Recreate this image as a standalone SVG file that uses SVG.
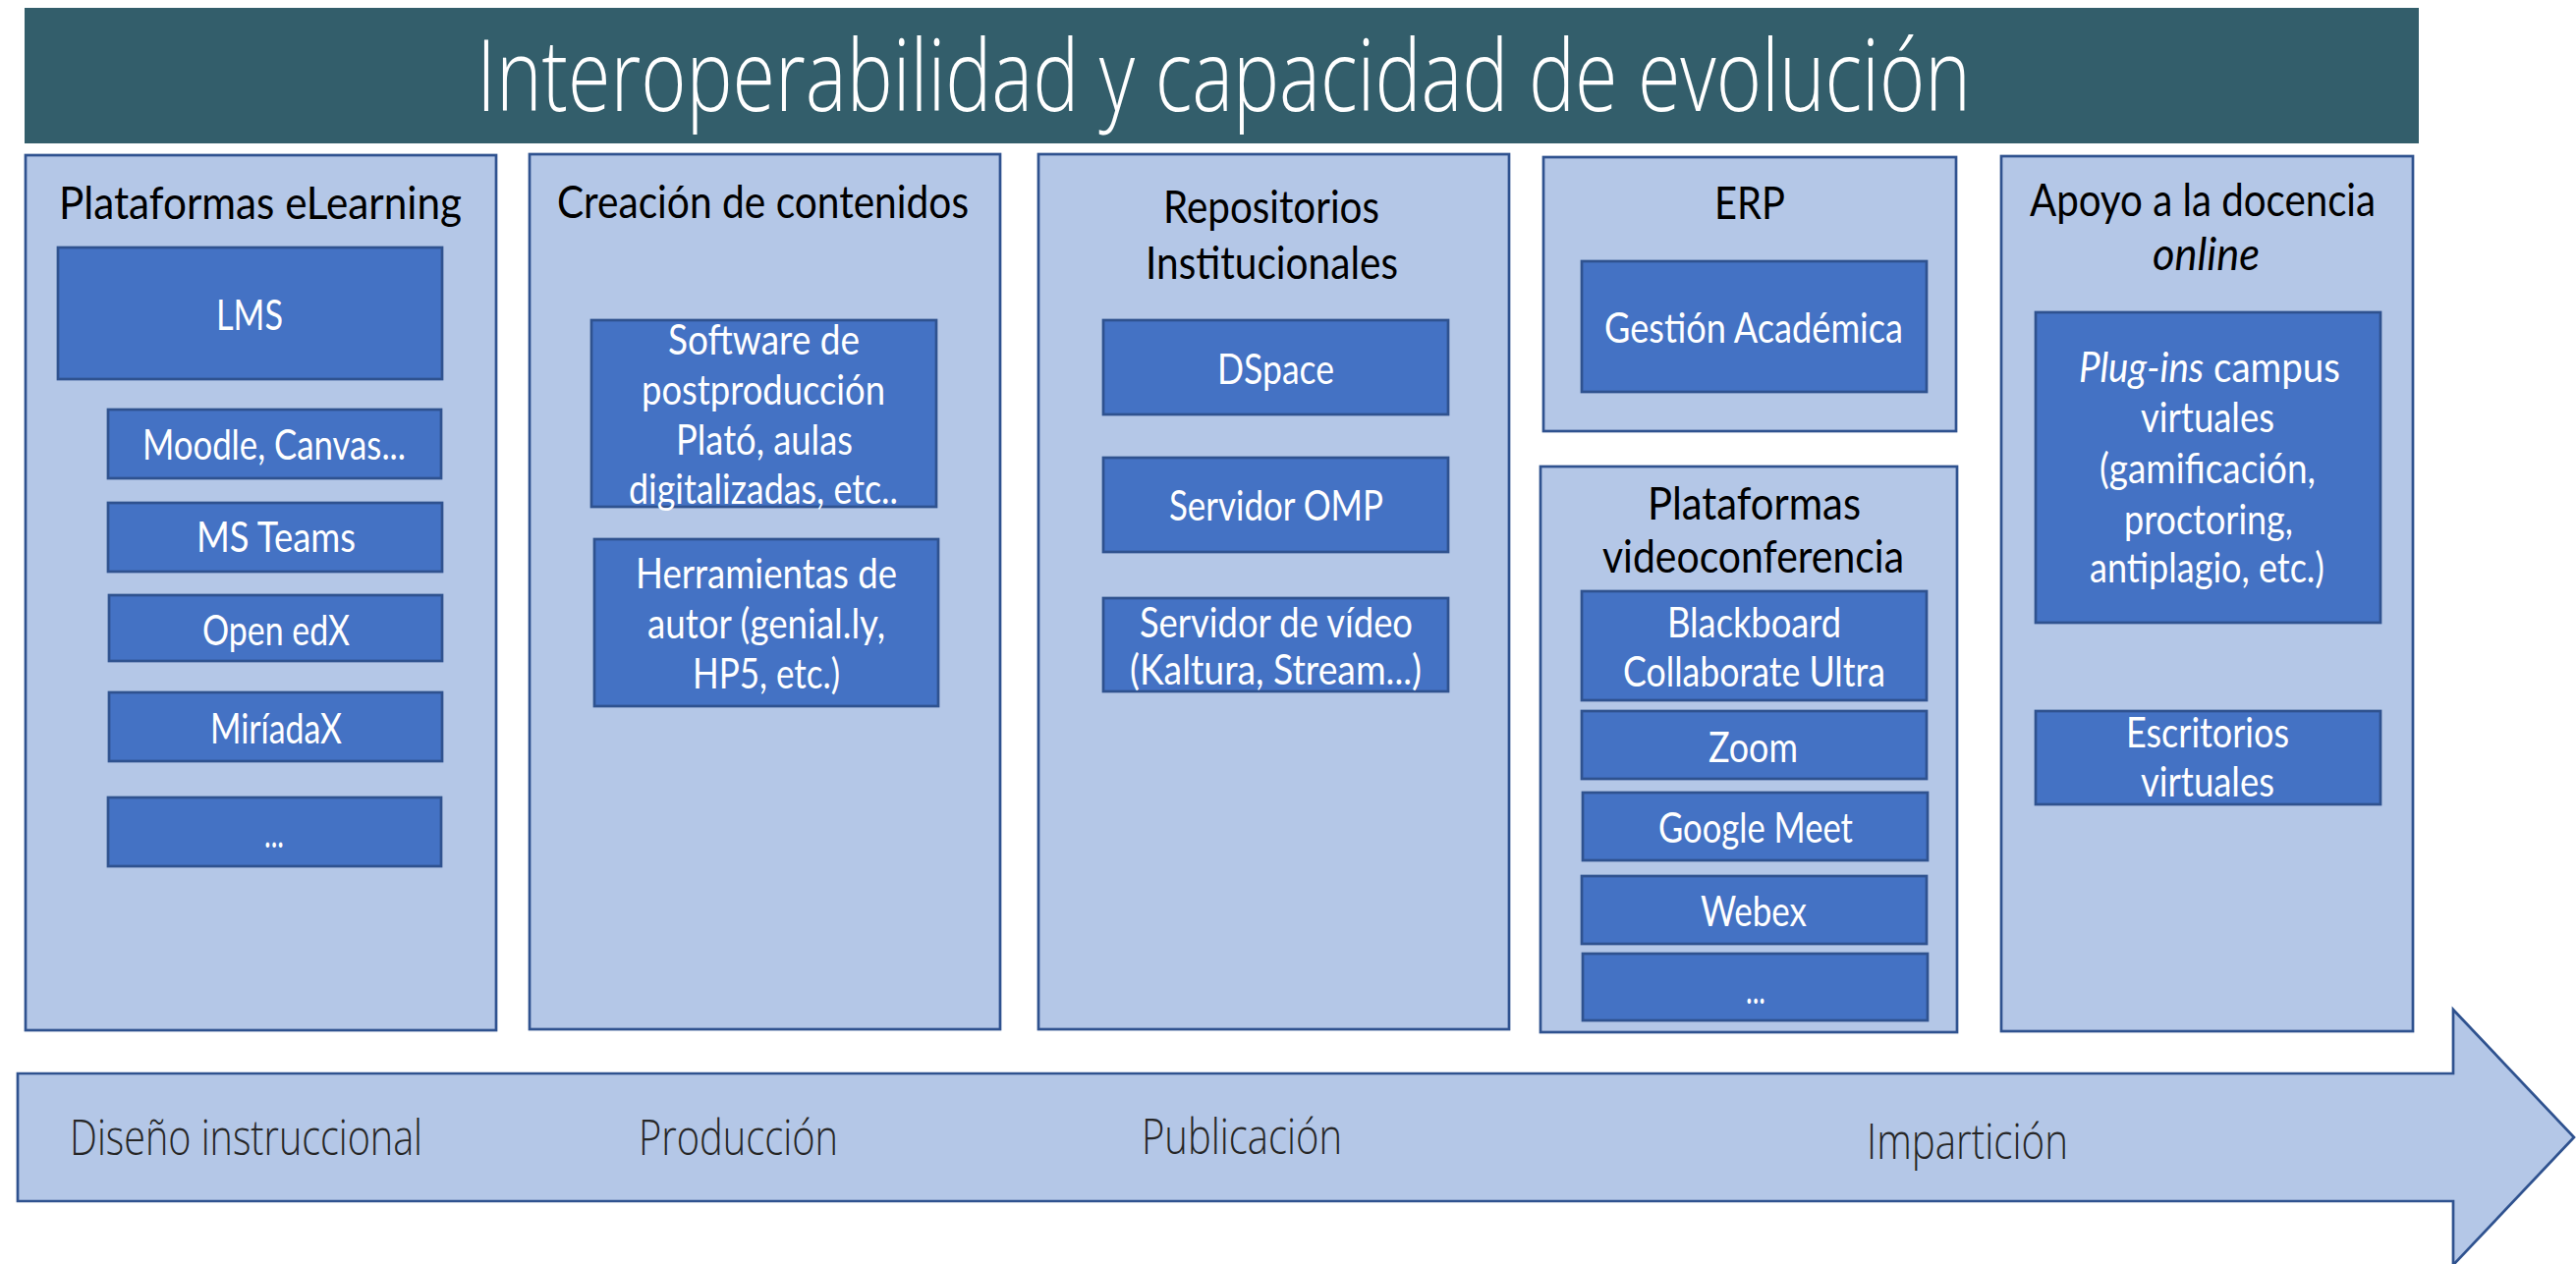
<svg xmlns="http://www.w3.org/2000/svg" width="2622" height="1287" viewBox="0 0 2622 1287">
<style>
.bar{fill:#335E6B}
.outer{fill:#B4C7E7;stroke:#2F528F;stroke-width:2.7}
.inner{fill:#4472C4;stroke:#2F528F;stroke-width:2.7}
text{font-family:Lato,"Open Sans","DejaVu Sans",sans-serif}
.title{font-family:"Open Sans","Liberation Sans",sans-serif;font-weight:300;font-size:102px;fill:#FFFFFF}
.hdr{font-size:46px;fill:#000000}
.w{font-size:42px;fill:#FFFFFF}
.stage{font-family:"Open Sans","Liberation Sans",sans-serif;font-weight:300;font-size:50px;fill:#262626}
.it{font-style:italic}
</style>
<rect width="2622" height="1287" fill="#FFFFFF"/>

<g id="title">
<rect class="bar" x="25" y="8" width="2437" height="138"/>
<text class="title" x="485" y="113" textLength="1521" lengthAdjust="spacingAndGlyphs">Interoperabilidad y capacidad de evolución</text>
</g>

<g id="timeline">
<polygon class="outer" points="18,1093 2497,1093 2497,1028 2620,1158 2497,1288 2497,1223 18,1223"/>
<text class="stage" x="71" y="1176" textLength="359" lengthAdjust="spacingAndGlyphs">Diseño instruccional</text>
<text class="stage" x="650" y="1176" textLength="203" lengthAdjust="spacingAndGlyphs">Producción</text>
<text class="stage" x="1162" y="1175" textLength="204" lengthAdjust="spacingAndGlyphs">Publicación</text>
<text class="stage" x="1900" y="1180" textLength="205" lengthAdjust="spacingAndGlyphs">Impartición</text>
</g>

<g id="plataformas-elearning">
<rect class="outer" x="26" y="158" width="479" height="891"/>
<text class="hdr" x="60" y="223" textLength="410" lengthAdjust="spacingAndGlyphs">Plataformas eLearning</text>
<g id="lms"><rect class="inner" x="59" y="252" width="391" height="134"/>
<text class="w" x="220" y="336" textLength="68" lengthAdjust="spacingAndGlyphs">LMS</text></g>
<g id="moodle"><rect class="inner" x="110" y="417" width="339" height="70"/>
<text class="w" x="145" y="468" textLength="268" lengthAdjust="spacingAndGlyphs">Moodle, Canvas...</text></g>
<g id="msteams"><rect class="inner" x="110" y="512" width="340" height="70"/>
<text class="w" x="200" y="562" textLength="162" lengthAdjust="spacingAndGlyphs">MS Teams</text></g>
<g id="openedx"><rect class="inner" x="111" y="606" width="339" height="67"/>
<text class="w" x="206" y="657" textLength="150" lengthAdjust="spacingAndGlyphs">Open edX</text></g>
<g id="miriadax"><rect class="inner" x="111" y="705" width="339" height="70"/>
<text class="w" x="214" y="757" textLength="134" lengthAdjust="spacingAndGlyphs">MiríadaX</text></g>
<g id="lms-more"><rect class="inner" x="110" y="812" width="339" height="70"/>
<text class="w" x="269" y="863" textLength="20" lengthAdjust="spacingAndGlyphs">...</text></g>
</g>

<g id="creacion-contenidos">
<rect class="outer" x="539" y="157" width="479" height="891"/>
<text class="hdr" x="567" y="222" textLength="419" lengthAdjust="spacingAndGlyphs">Creación de contenidos</text>
<g id="software"><rect class="inner" x="602" y="326" width="351" height="190"/>
<text class="w" x="680" y="361" textLength="195" lengthAdjust="spacingAndGlyphs">Software de</text>
<text class="w" x="653" y="412" textLength="248" lengthAdjust="spacingAndGlyphs">postproducción</text>
<text class="w" x="688" y="463" textLength="180" lengthAdjust="spacingAndGlyphs">Plató, aulas</text>
<text class="w" x="640" y="513" textLength="274" lengthAdjust="spacingAndGlyphs">digitalizadas, etc..</text></g>
<g id="herramientas"><rect class="inner" x="605" y="549" width="350" height="170"/>
<text class="w" x="647" y="599" textLength="266" lengthAdjust="spacingAndGlyphs">Herramientas de</text>
<text class="w" x="659" y="650" textLength="242" lengthAdjust="spacingAndGlyphs">autor (genial.ly,</text>
<text class="w" x="705" y="701" textLength="150" lengthAdjust="spacingAndGlyphs">HP5, etc.)</text></g>
</g>

<g id="repositorios">
<rect class="outer" x="1057" y="157" width="479" height="891"/>
<text class="hdr" x="1184" y="227" textLength="220" lengthAdjust="spacingAndGlyphs">Repositorios</text>
<text class="hdr" x="1166" y="284" textLength="257" lengthAdjust="spacingAndGlyphs">Institucionales</text>
<g id="dspace"><rect class="inner" x="1123" y="326" width="351" height="96"/>
<text class="w" x="1239" y="391" textLength="119" lengthAdjust="spacingAndGlyphs">DSpace</text></g>
<g id="omp"><rect class="inner" x="1123" y="466" width="351" height="96"/>
<text class="w" x="1190" y="530" textLength="218" lengthAdjust="spacingAndGlyphs">Servidor OMP</text></g>
<g id="video"><rect class="inner" x="1123" y="609" width="351" height="95"/>
<text class="w" x="1160" y="649" textLength="278" lengthAdjust="spacingAndGlyphs">Servidor de vídeo</text>
<text class="w" x="1150" y="697" textLength="297" lengthAdjust="spacingAndGlyphs">(Kaltura, Stream...)</text></g>
</g>

<g id="erp">
<rect class="outer" x="1571" y="160" width="420" height="279"/>
<text class="hdr" x="1745" y="223" textLength="72" lengthAdjust="spacingAndGlyphs">ERP</text>
<g id="gestion"><rect class="inner" x="1610" y="266" width="351" height="133"/>
<text class="w" x="1633" y="349" textLength="304" lengthAdjust="spacingAndGlyphs">Gestión Académica</text></g>
</g>

<g id="videoconferencia">
<rect class="outer" x="1568" y="475" width="424" height="576"/>
<text class="hdr" x="1677" y="529" textLength="217" lengthAdjust="spacingAndGlyphs">Plataformas</text>
<text class="hdr" x="1631" y="583" textLength="307" lengthAdjust="spacingAndGlyphs">videoconferencia</text>
<g id="blackboard"><rect class="inner" x="1610" y="602" width="351" height="111"/>
<text class="w" x="1697" y="649" textLength="177" lengthAdjust="spacingAndGlyphs">Blackboard</text>
<text class="w" x="1652" y="699" textLength="267" lengthAdjust="spacingAndGlyphs">Collaborate Ultra</text></g>
<g id="zoom"><rect class="inner" x="1610" y="724" width="351" height="69"/>
<text class="w" x="1739" y="776" textLength="91" lengthAdjust="spacingAndGlyphs">Zoom</text></g>
<g id="googlemeet"><rect class="inner" x="1611" y="807" width="351" height="69"/>
<text class="w" x="1688" y="858" textLength="198" lengthAdjust="spacingAndGlyphs">Google Meet</text></g>
<g id="webex"><rect class="inner" x="1610" y="892" width="351" height="69"/>
<text class="w" x="1731" y="943" textLength="108" lengthAdjust="spacingAndGlyphs">Webex</text></g>
<g id="vc-more"><rect class="inner" x="1611" y="971" width="351" height="68"/>
<text class="w" x="1777" y="1022" textLength="20" lengthAdjust="spacingAndGlyphs">...</text></g>
</g>

<g id="apoyo-docencia">
<rect class="outer" x="2037" y="159" width="419" height="891"/>
<text class="hdr" x="2066" y="220" textLength="352" lengthAdjust="spacingAndGlyphs">Apoyo a la docencia</text>
<text class="hdr it" x="2191" y="275" textLength="109" lengthAdjust="spacingAndGlyphs">online</text>
<g id="plugins"><rect class="inner" x="2072" y="318" width="351" height="316"/>
<text class="w" x="2116" y="389" textLength="266" lengthAdjust="spacingAndGlyphs"><tspan class="it">Plug-ins</tspan> campus</text>
<text class="w" x="2179" y="440" textLength="136" lengthAdjust="spacingAndGlyphs">virtuales</text>
<text class="w" x="2137" y="492" textLength="220" lengthAdjust="spacingAndGlyphs">(gamificación,</text>
<text class="w" x="2162" y="544" textLength="172" lengthAdjust="spacingAndGlyphs">proctoring,</text>
<text class="w" x="2127" y="593" textLength="239" lengthAdjust="spacingAndGlyphs">antiplagio, etc.)</text></g>
<g id="escritorios"><rect class="inner" x="2072" y="724" width="351" height="95"/>
<text class="w" x="2164" y="761" textLength="166" lengthAdjust="spacingAndGlyphs">Escritorios</text>
<text class="w" x="2179" y="811" textLength="136" lengthAdjust="spacingAndGlyphs">virtuales</text></g>
</g>

<g id="connectors"></g>
</svg>
